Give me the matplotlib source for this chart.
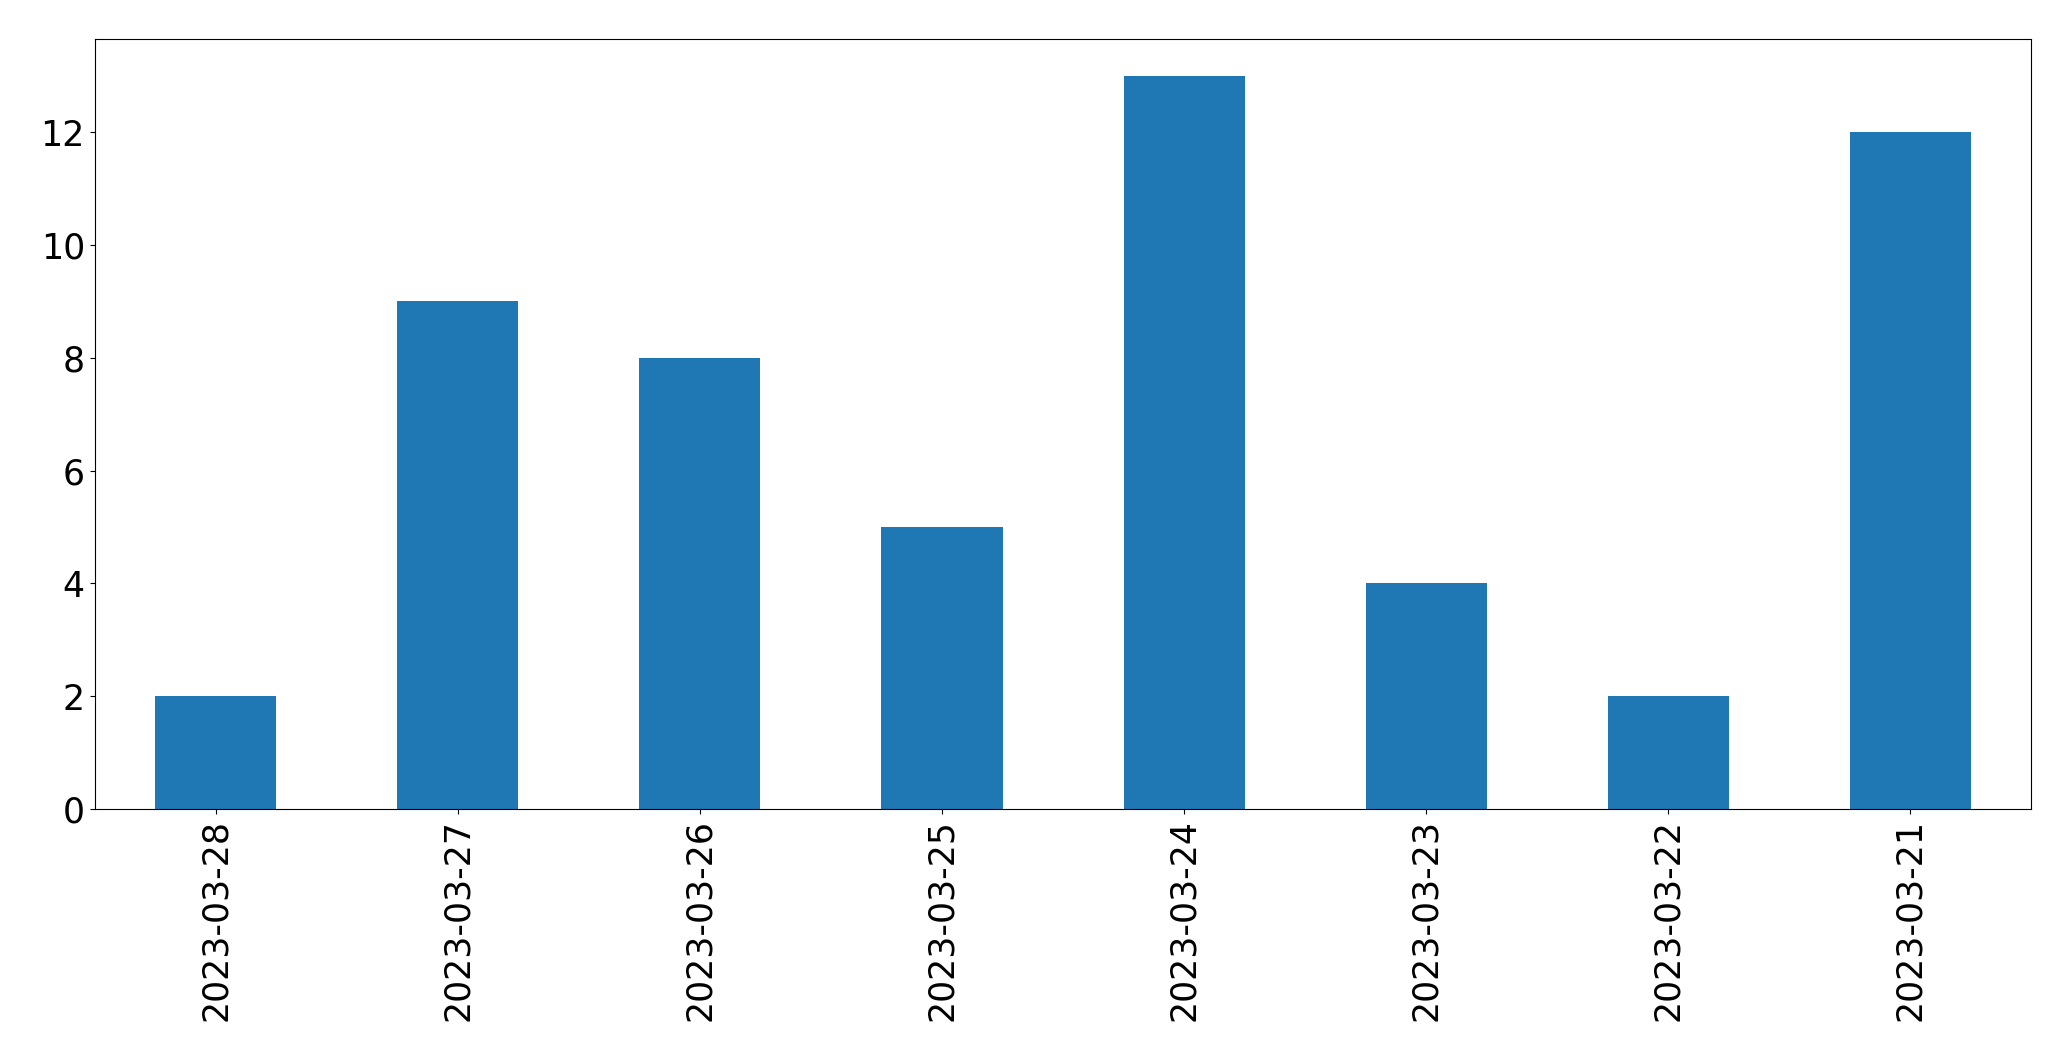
import matplotlib
matplotlib.use('Agg')
import matplotlib.pyplot as plt
import pandas as pd

# Counts per day (newest first, as in the reference)
dates = ['2023-03-28', '2023-03-27', '2023-03-26', '2023-03-25',
         '2023-03-24', '2023-03-23', '2023-03-22', '2023-03-21']
counts = [2, 9, 8, 5, 13, 4, 2, 12]

series = pd.Series(counts, index=dates)

fig = plt.figure(figsize=(20.71, 10.61), dpi=100)
ax = fig.add_axes([0.0457, 0.2375, 0.9352, 0.7255])

series.plot(kind='bar', ax=ax, color='#1f77b4', width=0.5, fontsize=25)
ax.tick_params(axis='x', labelrotation=90)

fig.savefig('out.png', dpi=100)
